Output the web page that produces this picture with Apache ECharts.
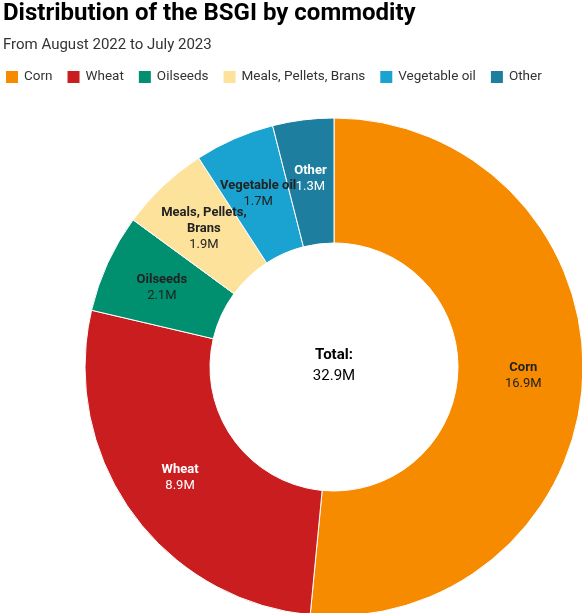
<!DOCTYPE html>
<html><head><meta charset="utf-8">
<script src="https://cdn.jsdelivr.net/npm/echarts@6/dist/echarts.min.js"></script>
<style>html,body{margin:0;padding:0;background:#fff}#c{width:582px;height:613px}</style>
</head><body><div id="c"></div>
<script>
const categories = ['Corn','Wheat','Oilseeds','Meals, Pellets, Brans','Vegetable oil','Other'];
const labelNames = ['Corn','Wheat','Oilseeds','Meals, Pellets,\nBrans','Vegetable oil','Other'];
const values = [16.9, 8.9, 2.1, 1.9, 1.7, 1.3];
const colors = ['#F68B00','#C91D1F','#00906F','#FDE29C','#1AA3D0','#1E7EA0'];
const labelColors = ['#222','#fff','#222','#222','#222','#fff'];
const totalLabel = ['Total:', '32.9M'];

const chart = echarts.init(document.getElementById('c'));
const F = 'Roboto, sans-serif';
chart.setOption({
  animation: false,
  title: [{
    text: 'Distribution of the BSGI by commodity',
    left: 3, top: 2, padding: 0,
    textStyle: {fontFamily: F, fontSize: 24, fontWeight: 'bold', color: '#000'}
  }, {
    text: 'From August 2022 to July 2023',
    left: 3, top: 38, padding: 0,
    textStyle: {fontFamily: F, fontSize: 15, fontWeight: 'normal', color: '#333'}
  }],
  legend: {
    left: 4, top: 69, padding: 0, itemWidth: 14, itemHeight: 14, itemGap: 13, icon: 'rect',
    textStyle: {fontFamily: F, fontSize: 13.5, color: '#333'},
    data: categories
  },
  graphic: [{
    type: 'text', left: 334 - 30, top: 348,
    style: {
      text: '{b|' + totalLabel[0] + '}\n{v|' + totalLabel[1] + '}',
      rich: {
        b: {fontFamily: F, fontSize: 15, fontWeight: 'bold', color: '#222', align: 'center', width: 60, lineHeight: 21},
        v: {fontFamily: F, fontSize: 15, color: '#222', align: 'center', width: 60, lineHeight: 21}
      }
    }
  }],
  series: [{
    type: 'pie',
    center: [334, 367],
    radius: [124, 249],
    startAngle: 90,
    clockwise: true,
    avoidLabelOverlap: false,
    labelLayout: {hideOverlap: false},
    itemStyle: {borderColor: '#fff', borderWidth: 1},
    emphasis: {disabled: true},
    labelLine: {show: false},
    data: categories.map((c, i) => ({
      name: c, value: values[i],
      itemStyle: {color: colors[i]},
      label: {
        show: true, position: 'inside',
        formatter: '{b|' + labelNames[i].split('\n').join('}\n{b|') + '}\n{v|' + values[i].toFixed(1) + 'M}',
        rich: {
          b: {fontFamily: F, fontSize: 13, fontWeight: 'bold', color: labelColors[i], lineHeight: 16},
          v: {fontFamily: F, fontSize: 13, color: labelColors[i], lineHeight: 16}
        }
      }
    }))
  }]
});
</script></body></html>
